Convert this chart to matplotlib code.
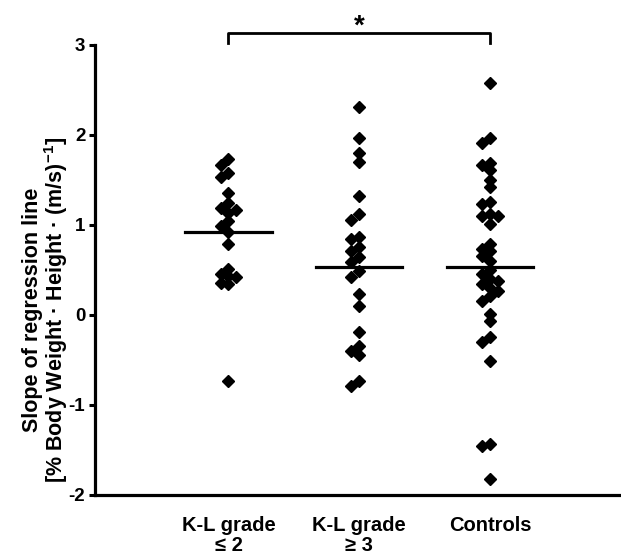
import numpy as np
import matplotlib
matplotlib.use("Agg")
import matplotlib.pyplot as plt

plt.rcParams['font.family'] = ['Liberation Sans', 'DejaVu Sans']
plt.rcParams['font.weight'] = 'bold'
plt.rcParams['mathtext.fontset'] = 'custom'
plt.rcParams['mathtext.rm'] = 'Liberation Sans:bold'
plt.rcParams['mathtext.default'] = 'rm'

# values
groups = ['K-L grade\n≤ 2', 'K-L grade\n≥ 3', 'Controls']
kl_low = [1.73, 1.67, 1.58, 1.53, 1.36, 1.24, 1.19, 1.17, 1.13, 1.04,
          0.99, 0.92, 0.79, 0.51, 0.45, 0.43, 0.42, 0.36, 0.34, -0.73]
kl_high = [2.31, 1.97, 1.80, 1.70, 1.32, 1.12, 1.06, 0.87, 0.84, 0.76,
           0.71, 0.64, 0.59, 0.49, 0.42, 0.23, 0.10, -0.19, -0.35, -0.40,
           -0.45, -0.73, -0.79]
controls = [2.58, 1.97, 1.91, 1.69, 1.67, 1.61, 1.50, 1.42, 1.26, 1.23,
            1.12, 1.10, 1.10, 1.01, 0.79, 0.73, 0.71, 0.65, 0.60, 0.50,
            0.45, 0.40, 0.38, 0.34, 0.30, 0.27, 0.21, 0.16, 0.01, -0.07,
            -0.24, -0.30, -0.51, -1.43, -1.46, -1.82]
group_lines = [0.92, 0.53, 0.53]
yticks = [-2, -1, 0, 1, 2, 3]


def swarm(vals, step=0.06, dy=0.075):
    # small sideways shifts so close points do not sit on top of each other
    placed = []
    offs = []
    for v in vals:
        off = 0
        for cand in [0, -step, step, -2 * step, 2 * step]:
            if all(abs(v - pv) >= dy or abs(cand - po) >= step * 0.9
                   for pv, po in placed):
                off = cand
                break
        placed.append((v, off))
        offs.append(off)
    return np.array(offs)


fig = plt.figure(figsize=(6.21, 5.54), dpi=100)
ax = fig.add_axes([0.153, 0.1065, 0.847, 0.8123])

for i, vals in enumerate([kl_low, kl_high, controls]):
    x = i + 1 + swarm(vals)
    ax.plot(x, vals, 'D', color='black', markersize=5.8, linestyle='none')
    ax.plot([i + 1 - 0.33, i + 1 + 0.33], [group_lines[i]] * 2,
            color='black', linewidth=2.3)

ax.set_xlim(-0.02, 4.0)
ax.set_ylim(-2, 3)
ax.set_yticks(yticks)
ax.set_yticklabels([str(t) for t in yticks], fontsize=13.5, fontweight='bold')
ax.set_xticks([1, 2, 3])
ax.set_xticklabels(groups, fontsize=14.5, fontweight='bold', linespacing=1.1)
ax.tick_params(axis='x', length=0, pad=15)
ax.tick_params(axis='y', length=4, width=2.2, pad=3)

for s in ['top', 'right']:
    ax.spines[s].set_visible(False)
for s in ['left', 'bottom']:
    ax.spines[s].set_linewidth(2.3)

# significance bracket between first group and controls
ax.plot([1, 1, 3, 3], [3.02, 3.13, 3.13, 3.02], color='black',
        linewidth=2.0, clip_on=False)
ax.text(2, 3.06, '*', ha='center', va='bottom', fontsize=20,
        fontweight='bold')

fig.text(0.074, 0.44,
         'Slope of regression line\n[% Body Weight · Height · (m/s)$^{-1}$]',
         rotation=90, ha='center', va='center', fontsize=15.5,
         fontweight='bold', multialignment='center', linespacing=0.95)

fig.savefig('out.png', dpi=100)
